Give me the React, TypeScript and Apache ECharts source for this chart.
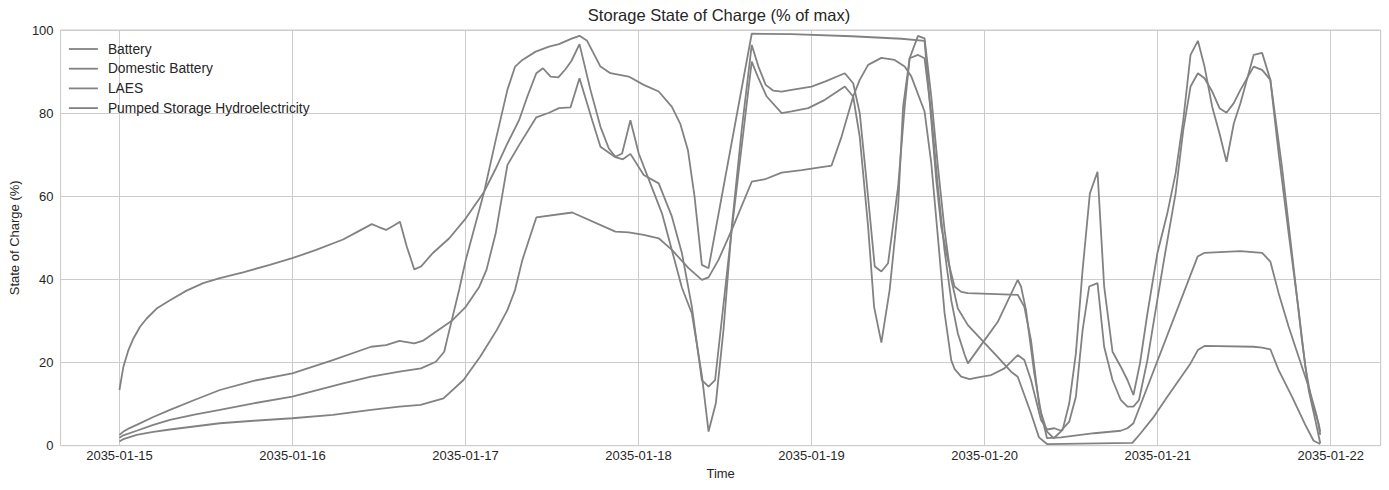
import React, { useEffect, useRef } from "react";
import * as echarts from "echarts";

// Hours since 2035-01-15 00:00, state of charge (%)
const seriesNames = ["Battery", "Domestic Battery", "LAES", "Pumped Storage Hydroelectricity"];

const battery: [number, number][] = [
  [0, 13.4], [0.55, 19.0], [1.25, 23.0], [1.94, 25.8], [2.86, 28.6], [3.78, 30.6], [5.16, 33.0], [7.01, 35.0],
  [9.31, 37.3], [11.62, 39.1], [13.93, 40.3], [17.15, 41.7], [20.85, 43.5], [23.97, 45.1], [27.29, 47.1],
  [31.02, 49.6], [33.06, 51.5], [35.0, 53.3], [35.97, 52.6], [36.98, 51.9], [37.9, 52.8], [38.91, 53.9],
  [39.84, 48], [40.9, 42.4], [41.82, 43.1], [43.44, 46.3], [45.75, 49.9], [48.04, 54.7], [50.59, 61.1],
  [52.15, 66.5], [53.81, 72.7], [55.43, 78.3], [56.58, 84], [57.82, 89.6], [58.75, 90.8], [59.8, 88.8],
  [60.87, 88.6], [61.84, 90.5], [62.71, 92.6], [63.81, 96.6], [65.33, 85.6], [66.72, 76.7], [67.88, 71.5],
  [68.79, 69.5], [69.72, 70.3], [70.87, 78.3], [72.03, 70.3], [73.63, 63.1], [75.25, 55.9], [76.63, 47],
  [78.02, 38], [79.4, 31.8], [80.78, 17], [81.71, 3.4], [82.72, 10.2], [83.78, 27.8], [84.93, 52.7],
  [86.31, 76], [87.7, 96.4], [88.63, 91.2], [89.64, 86.8], [90.7, 85.4], [91.85, 85.2], [93.23, 85.6],
  [96.0, 86.4], [97.84, 87.6], [100.61, 89.6], [101.77, 87.2], [102.68, 80.0], [103.61, 63.9], [104.76, 43.1],
  [105.68, 41.9], [106.61, 43.9], [108.0, 62.3], [108.91, 81.5], [109.6, 93.2], [110.76, 94.0],
  [111.67, 93.2], [112.6, 80], [113.53, 62], [114.44, 47], [115.37, 35], [116.29, 27], [117.21, 22],
  [117.68, 19.8], [119.75, 24.8], [121.83, 29.8], [124.59, 39.9], [125.05, 38.3], [125.74, 32.6],
  [126.89, 17.4], [127.82, 8], [128.65, 3.4], [129.58, 1.8], [130.82, 3.8], [131.74, 10.2], [132.66, 22.2],
  [133.59, 42.3], [134.6, 60.7], [135.66, 65.9], [136.58, 38.3], [137.74, 22.6], [138.88, 19.0],
  [139.81, 15.8], [140.64, 12.2], [141.55, 19.8], [142.58, 31.8], [143.96, 46.3], [145.34, 55.9],
  [146.49, 65.5], [147.55, 78.3], [148.56, 94.0], [149.58, 97.4], [150.5, 91.2], [151.57, 81.5],
  [152.58, 75.1], [153.55, 68.3], [154.56, 77.5], [155.48, 82.4], [157.32, 94.0], [158.49, 94.5],
  [159.63, 88.0], [160.78, 70.3], [162.17, 51.1], [163.55, 32.6], [164.48, 19.0], [165.4, 10.2],
  [166.32, 5.4], [166.55, 3.4],
];

const domesticBattery: [number, number][] = [
  [0, 2.6], [0.55, 3.4], [1.25, 4.1], [2.39, 5.0], [4.7, 6.9], [7.01, 8.6], [10.4, 11.0], [13.93, 13.4],
  [18.6, 15.6], [23.97, 17.4], [29.6, 20.6], [34.9, 23.8], [36.98, 24.2], [38.83, 25.2], [40.9, 24.6],
  [42.05, 25.2], [43.89, 27.4], [46.2, 30.2], [48.04, 33.4], [49.9, 38.2], [50.91, 42.3], [52.19, 51.1],
  [53.81, 67.5], [55.43, 72.3], [57.82, 79.0], [59.58, 80.1], [60.96, 81.2], [62.57, 81.4], [63.81, 88.4],
  [65.57, 78.3], [66.72, 71.9], [68.79, 69.4], [69.82, 68.9], [70.87, 70.2], [72.72, 65.1], [74.8, 63.1],
  [76.63, 55.1], [78.02, 46.3], [79.4, 33.4], [80.78, 15.8], [81.71, 14.2], [82.62, 15.8], [84.93, 52],
  [87.7, 92.4], [88.63, 88.4], [89.78, 84.0], [91.85, 80.0], [93.23, 80.4], [95.54, 81.2], [97.84, 83.2],
  [100.61, 86.4], [101.77, 84.0], [102.68, 74.3], [103.84, 52.7], [104.67, 33.4], [105.68, 24.8],
  [106.83, 37.5], [108.0, 57.5], [108.69, 81.5], [109.6, 93.2], [110.76, 98.6], [111.67, 98.0], [112.6, 84],
  [113.53, 67], [114.44, 52], [115.37, 40], [116.29, 33], [117.68, 29.0], [121.83, 21.3], [123.67, 17.8],
  [124.59, 16.6], [126.43, 7.8], [127.54, 2.0], [128.65, 0.4], [140.5, 0.7], [141.64, 3.0], [143.49, 7.0],
  [145.34, 11.8], [148.56, 19.8], [149.58, 23.0], [150.5, 24.0], [157.32, 23.8], [158.49, 23.6],
  [159.63, 23.2], [160.78, 18.2], [162.63, 11.8], [164.48, 5.0], [165.63, 1.2], [166.55, 0.4],
];

const laes: [number, number][] = [
  [0, 1.9], [0.55, 2.5], [2.39, 3.6], [4.7, 5.0], [7.01, 6.2], [10.4, 7.5], [13.93, 8.6], [18.6, 10.2],
  [23.97, 11.8], [31.02, 15.0], [34.9, 16.6], [38.83, 17.8], [41.82, 18.6], [43.89, 20.2], [45.05, 22.6],
  [45.51, 26.0], [47.12, 37.5], [48.04, 44.7], [50.59, 61.1], [52.19, 73.5], [53.81, 85.6], [54.88, 91.2],
  [55.89, 92.8], [57.73, 94.8], [59.58, 96.0], [60.96, 96.6], [62.8, 98.0], [63.81, 98.6], [64.87, 97.4],
  [66.72, 91.2], [68.1, 89.6], [70.64, 88.8], [72.72, 86.8], [74.8, 85.2], [76.63, 81.5], [77.78, 77.5],
  [78.85, 71.1], [79.77, 59.9], [80.78, 43.5], [81.71, 42.7], [87.7, 99.1], [93.23, 99.0], [101.54, 98.5],
  [108.46, 97.9], [111.67, 97.4], [112.6, 78.3], [113.29, 63.9], [113.98, 52.7], [114.9, 44.7],
  [115.82, 38.3], [116.75, 37.0], [117.68, 36.7], [124.59, 36.3], [125.51, 33.4], [126.43, 25.4],
  [127.54, 10.0], [128.65, 1.8], [130.59, 2.0], [135.2, 3.0], [138.88, 3.6], [139.81, 4.2], [140.64, 5.4],
  [149.54, 45.5], [150.5, 46.4], [155.48, 46.8], [158.49, 46.4], [159.63, 44.3], [160.78, 36.7],
  [162.17, 28.6], [163.55, 21.4], [164.94, 14.2], [166.09, 7.0], [166.55, 2.6],
];

const pumpedHydro: [number, number][] = [
  [0, 1.0], [0.55, 1.6], [2.39, 2.6], [4.7, 3.3], [7.01, 3.9], [13.93, 5.4], [18.6, 6.0], [23.97, 6.6],
  [29.6, 7.4], [34.9, 8.6], [38.83, 9.4], [41.77, 9.8], [44.95, 11.4], [47.72, 15.8], [50.03, 21.4],
  [52.33, 27.8], [53.81, 32.6], [54.88, 37.5], [55.89, 44.7], [57.82, 54.9], [62.8, 56.1], [68.79, 51.5],
  [70.64, 51.3], [72.72, 50.7], [74.8, 49.9], [76.63, 47.1], [78.94, 42.7], [80.78, 39.9], [81.71, 40.5],
  [83.09, 44.7], [84.93, 51.9], [87.7, 63.5], [89.54, 64.1], [91.85, 65.7], [94.62, 66.3], [98.77, 67.4],
  [100.15, 74.3], [101.77, 84.0], [102.68, 88.0], [103.84, 91.6], [105.68, 93.3], [107.52, 92.8],
  [108.91, 91.2], [109.84, 88.8], [111.67, 80.4], [112.6, 68], [113.53, 50], [114.44, 32], [115.37, 20.6],
  [115.82, 18.5], [116.75, 16.6], [117.91, 16.0], [119.29, 16.5], [120.91, 17.0], [122.75, 18.6],
  [124.59, 21.8], [125.51, 20.6], [126.43, 15.8], [126.89, 12.6], [127.82, 6.2], [128.65, 3.9],
  [129.68, 4.2], [130.59, 3.6], [131.74, 5.8], [132.66, 11.8], [133.59, 27.8], [134.51, 38.3],
  [135.66, 39.1], [136.58, 23.8], [137.74, 15.8], [138.88, 11.0], [139.81, 9.4], [140.64, 9.4],
  [141.41, 11.0], [142.58, 20.6], [143.49, 30.2], [144.88, 44.7], [146.49, 60.7], [147.55, 75.9],
  [148.56, 86.4], [149.58, 89.6], [150.5, 88.4], [151.57, 85.2], [152.58, 81.2], [153.55, 80.1],
  [154.56, 82.4], [155.48, 85.6], [157.32, 91.2], [158.49, 90.4], [159.63, 88.0], [161.24, 67.1],
  [162.63, 46.3], [164.01, 25.4], [164.94, 13.4], [165.86, 6.2], [166.55, 0.6],
];

const allSeries = [battery, domesticBattery, laes, pumpedHydro];

const START = new Date(2035, 0, 15, 0, 0, 0).getTime();
const HOUR = 3600 * 1000;
const DAY = 24 * HOUR;
const X_MIN_DAYS = -0.34;
const X_MAX_DAYS = 7.289;

const FONT = "Liberation Sans, Arial, sans-serif";
const TEXT = "#262626";
const GRID = "#cccccc";
const LINE = "#828282";

function pad(n: number) {
  return n < 10 ? "0" + n : "" + n;
}
function fmtDate(v: number) {
  const d = new Date(v);
  return d.getFullYear() + "-" + pad(d.getMonth() + 1) + "-" + pad(d.getDate());
}

export default function App() {
  const ref = useRef<HTMLDivElement>(null);
  useEffect(() => {
    if (!ref.current) return;
    const chart = echarts.init(ref.current, undefined, { renderer: "svg" });
    chart.setOption({
      animation: false,
      backgroundColor: "#ffffff",
      textStyle: { fontFamily: FONT },
      title: {
        text: "Storage State of Charge (% of max)",
        left: 719,
        textAlign: "center",
        top: 6,
        padding: 0,
        textStyle: { fontFamily: FONT, fontSize: 16.5, fontWeight: "normal", color: TEXT },
      },
      legend: {
        orient: "vertical",
        left: 68,
        top: 42,
        padding: 0,
        itemWidth: 29,
        itemHeight: 14,
        itemGap: 5.7,
        data: seriesNames,
        itemStyle: { color: "rgba(0,0,0,0)", borderWidth: 0, borderColor: "rgba(0,0,0,0)", opacity: 0 },
        lineStyle: { color: LINE, width: 1.8 },
        textStyle: { fontFamily: FONT, fontSize: 13.8, color: TEXT, padding: [0, 0, 0, 5] },
      },
      grid: {
        left: 57,
        right: 8.3,
        top: 30,
        bottom: 44.3,
        show: true,
        borderColor: GRID,
        borderWidth: 1,
        containLabel: false,
      },
      xAxis: {
        type: "time",
        min: START + X_MIN_DAYS * DAY,
        max: START + X_MAX_DAYS * DAY,
        minInterval: DAY,
        maxInterval: DAY,
        name: "Time",
        nameLocation: "middle",
        nameGap: 20,
        nameTextStyle: { fontFamily: FONT, fontSize: 13, color: TEXT },
        axisLine: { show: false },
        axisTick: { show: false },
        axisLabel: {
          fontFamily: FONT,
          fontSize: 13,
          color: TEXT,
          margin: 3,
          showMinLabel: false,
          showMaxLabel: false,
          formatter: (v: number) => fmtDate(v),
        },
        splitLine: { show: true, lineStyle: { color: GRID, width: 1 } },
      },
      yAxis: {
        type: "value",
        min: 0,
        max: 100,
        interval: 20,
        name: "State of Charge (%)",
        nameLocation: "middle",
        nameGap: 36,
        nameTextStyle: { fontFamily: FONT, fontSize: 13, color: TEXT },
        axisLine: { show: false },
        axisTick: { show: false },
        axisLabel: { fontFamily: FONT, fontSize: 13, color: TEXT, margin: 7 },
        splitLine: { show: true, lineStyle: { color: GRID, width: 1 } },
      },
      series: allSeries.map((pts, i) => ({
        name: seriesNames[i],
        type: "line",
        symbol: "none",
        showSymbol: false,
        smooth: false,
        color: LINE,
        lineStyle: { color: LINE, width: 1.8 },
        data: pts.map(([h, v]) => [START + h * HOUR, v]),
      })),
    });
    return () => chart.dispose();
  }, []);
  return (
    <div
      ref={ref}
      style={{ position: "absolute", left: 0, top: 0, width: 1389, height: 490 }}
    />
  );
}
